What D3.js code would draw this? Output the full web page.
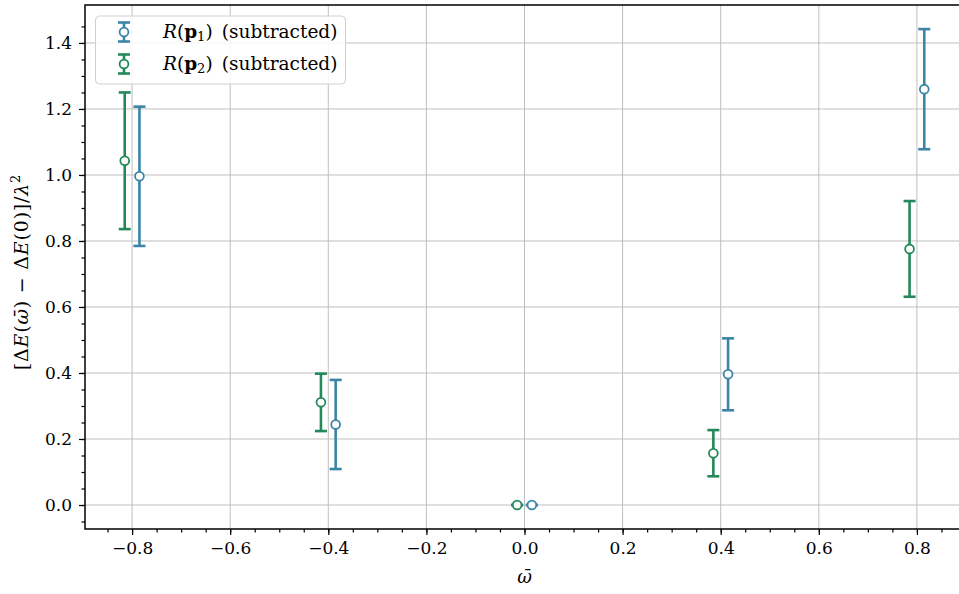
<!DOCTYPE html>
<html>
<head>
<meta charset="utf-8">
<script src="https://cdn.jsdelivr.net/npm/d3@7"></script>
<style>
  body { margin: 0; background: #fff; }
  svg { display: block; font-family: "DejaVu Serif", serif; }
</style>
</head>
<body>
<svg id="chart" width="959" height="594"></svg>
<script>
// omega bar values, both series share them (drawn slightly shifted left/right)
const omegaBar = [-0.8, -0.4, 0.0, 0.4, 0.8];
const p1Values = [0.996, 0.244, 0.0, 0.396, 1.260];
const p1Errors = [0.211, 0.135, 0.0, 0.109, 0.182];
const p2Values = [1.043, 0.311, 0.0, 0.157, 0.776];
const p2Errors = [0.207, 0.087, 0.0, 0.070, 0.145];
const xTicks = [-0.8, -0.6, -0.4, -0.2, 0.0, 0.2, 0.4, 0.6, 0.8];
const yTicks = [0.0, 0.2, 0.4, 0.6, 0.8, 1.0, 1.2, 1.4];

const CONFIG = {
    left: 85,
    top: 5,
    bottom: 529,
    right: 964,       // figure is cropped on the right, no right spine visible
    shift: 0.015,
    blue: '#3b84a6',
    green: '#23885a',
    grid: '#b8b8b8',
    font: '"DejaVu Serif", serif'
};

const svg = d3.select('#chart');
const x = d3.scaleLinear().domain([-0.896, 0.896]).range([CONFIG.left, CONFIG.right]);
const y = d3.scaleLinear().domain([-0.0727, 1.515]).range([CONFIG.bottom, CONFIG.top]);

// grid
svg.append('g').selectAll('line').data(xTicks).enter().append('line')
    .attr('x1', d => x(d)).attr('x2', d => x(d))
    .attr('y1', CONFIG.top).attr('y2', CONFIG.bottom)
    .attr('stroke', CONFIG.grid).attr('stroke-width', 0.9);
svg.append('g').selectAll('line').data(yTicks).enter().append('line')
    .attr('x1', CONFIG.left).attr('x2', CONFIG.right)
    .attr('y1', d => y(d)).attr('y2', d => y(d))
    .attr('stroke', CONFIG.grid).attr('stroke-width', 0.9);

// axes
const fmt = d => (d < 0 ? '\u2212' : '') + Math.abs(d).toFixed(1);
const xAxis = d3.axisBottom(x).tickValues(xTicks).tickFormat(fmt).tickSize(6).tickPadding(7);
const xMinor = d3.axisBottom(x).tickValues(d3.range(-0.85, 0.9, 0.05).map(v => +v.toFixed(2)))
    .tickFormat('').tickSize(3.5);
const yAxis = d3.axisLeft(y).tickValues(yTicks).tickFormat(fmt).tickSize(6).tickPadding(7);
const yMinor = d3.axisLeft(y).tickValues(d3.range(-0.05, 1.5, 0.05).map(v => +v.toFixed(2)))
    .tickFormat('').tickSize(3.5);

function styleAxis(g) {
    g.attr('font-family', CONFIG.font);
    g.select('.domain').remove();
    g.selectAll('line').attr('stroke', '#000').attr('stroke-width', 1.2);
    g.selectAll('text').attr('font-size', 17).attr('fill', '#000');
}
svg.append('g').attr('transform', `translate(0,${CONFIG.bottom})`).call(xMinor).call(styleAxis);
svg.append('g').attr('transform', `translate(0,${CONFIG.bottom})`).call(xAxis).call(styleAxis);
svg.append('g').attr('transform', `translate(${CONFIG.left},0)`).call(yMinor).call(styleAxis);
svg.append('g').attr('transform', `translate(${CONFIG.left},0)`).call(yAxis).call(styleAxis);

// spines: left, bottom, top
svg.append('path')
    .attr('d', `M${CONFIG.right},${CONFIG.top}H${CONFIG.left}V${CONFIG.bottom}H${CONFIG.right}`)
    .attr('fill', 'none').attr('stroke', '#000').attr('stroke-width', 1.5);

// error bars
function drawSeries(values, errors, shift, color) {
    const data = omegaBar.map((w, i) => ({ w: w + shift, v: values[i], e: errors[i] }));
    const g = svg.append('g');
    g.selectAll('.bar').data(data).enter().append('line')
        .attr('x1', d => x(d.w)).attr('x2', d => x(d.w))
        .attr('y1', d => y(d.v - d.e)).attr('y2', d => y(d.v + d.e))
        .attr('stroke', color).attr('stroke-width', 2.6);
    ['lo', 'hi'].forEach(k => {
        g.selectAll('.cap' + k).data(data).enter().append('line')
            .attr('x1', d => x(d.w) - 6).attr('x2', d => x(d.w) + 6)
            .attr('y1', d => y(k === 'lo' ? d.v - d.e : d.v + d.e))
            .attr('y2', d => y(k === 'lo' ? d.v - d.e : d.v + d.e))
            .attr('stroke', color).attr('stroke-width', 2.6);
    });
    g.selectAll('circle').data(data).enter().append('circle')
        .attr('cx', d => x(d.w)).attr('cy', d => y(d.v)).attr('r', 4.4)
        .attr('fill', '#fff').attr('stroke', color).attr('stroke-width', 1.8);
}
drawSeries(p1Values, p1Errors, CONFIG.shift, CONFIG.blue);
drawSeries(p2Values, p2Errors, -CONFIG.shift, CONFIG.green);

// axis labels
svg.append('text')
    .attr('x', x(0)).attr('y', 583)
    .attr('text-anchor', 'middle').attr('font-size', 18).attr('font-style', 'italic')
    .text('\u03c9\u0304');

const yl = svg.append('text')
    .attr('transform', `translate(28,${(CONFIG.top + CONFIG.bottom) / 2 + 5}) rotate(-90)`)
    .attr('text-anchor', 'middle').attr('font-size', 19).attr('letter-spacing', 0.8);
[['[\u0394', null], ['E', 'italic'], ['(', null], ['\u03c9\u0304', 'italic'], [') \u2212 \u0394', null],
 ['E', 'italic'], ['(0)]/', null], ['\u03bb', 'italic']].forEach(([t, s]) => {
    yl.append('tspan').attr('font-style', s).text(t);
});
yl.append('tspan').attr('font-size', 13).attr('dy', -8).text('2');

// legend
const legend = svg.append('g');
legend.append('rect')
    .attr('x', 95.5).attr('y', 16).attr('width', 250).attr('height', 68).attr('rx', 4)
    .attr('fill', '#fff').attr('fill-opacity', 0.85)
    .attr('stroke', '#d0d0d0').attr('stroke-width', 1);
[[CONFIG.blue, '1', 32], [CONFIG.green, '2', 64]].forEach(([color, sub, cy]) => {
    legend.append('line').attr('x1', 124).attr('x2', 124).attr('y1', cy - 9.5).attr('y2', cy + 9.5)
        .attr('stroke', color).attr('stroke-width', 2.6);
    [cy - 9.5, cy + 9.5].forEach(yy => legend.append('line')
        .attr('x1', 118).attr('x2', 130).attr('y1', yy).attr('y2', yy)
        .attr('stroke', color).attr('stroke-width', 2.6));
    legend.append('circle').attr('cx', 124).attr('cy', cy).attr('r', 4.4)
        .attr('fill', '#fff').attr('stroke', color).attr('stroke-width', 1.8);
    const t = legend.append('text').attr('x', 163).attr('y', cy + 6).attr('font-size', 18.5);
    t.append('tspan').attr('font-style', 'italic').text('R');
    t.append('tspan').text('(');
    t.append('tspan').attr('font-weight', 'bold').text('p');
    t.append('tspan').attr('font-size', 13).attr('dy', 3).text(sub);
    t.append('tspan').attr('dy', -3).text(')\u2002(subtracted)');
});
</script>
</body>
</html>
